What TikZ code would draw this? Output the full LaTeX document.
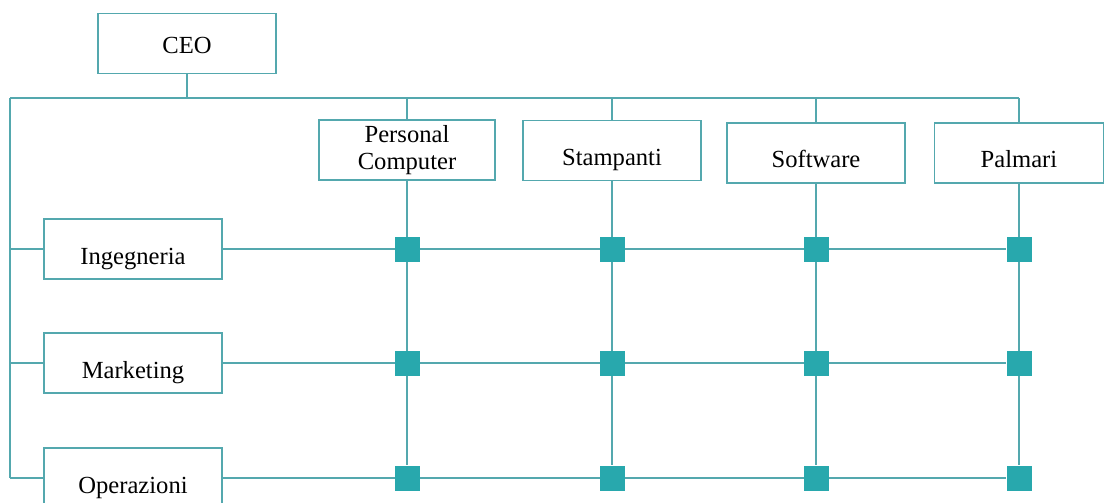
\documentclass[tikz,border=0pt]{standalone}
\usepackage{fontspec}
\setmainfont{Liberation Serif}
\usetikzlibrary{backgrounds}
\definecolor{orgline}{RGB}{84,168,174}
\definecolor{orgmark}{RGB}{40,168,173}
\tikzset{
  unit/.style={draw=orgline,line width=0.75pt,fill=white,minimum width=89pt,minimum height=30pt,inner sep=0pt,align=center,font=\fontsize{12.3}{13.5}\selectfont},
  lowered/.style={text height=#1,text depth=2.5pt},
  cell/.style={draw=none,fill=orgmark,minimum size=12.5pt,inner sep=0pt},
  link/.style={orgline,line width=0.75pt}
}
\begin{document}
\begin{tikzpicture}[x=0.5pt,y=-0.5pt]
\useasboundingbox (0,0) rectangle (1105,503);
\clip (0,0) rectangle (1105,503);
\node[unit,lowered=13pt] (ceo) at (187,43.5) {CEO};
\node[unit,minimum width=88pt] (pc) at (407,150) {Personal\\Computer};
\node[unit,lowered=17pt] (stamp) at (612,150.5) {Stampanti};
\node[unit,lowered=17pt] (soft) at (816,153) {Software};
\node[unit,lowered=17pt,minimum width=84.5pt] (palm) at (1019,153) {Palmari};
\node[unit,lowered=17.5pt] (ing) at (133,249) {Ingegneria};
\node[unit,lowered=17.5pt] (mkt) at (133,363) {Marketing};
\node[unit,lowered=17.5pt] (ops) at (133,478) {Operazioni};
\coordinate (bl) at (10,98);
\coordinate (br) at (1019,98);

% products x divisions
\node[cell] (m11) at (pc |- ing) {};
\node[cell] (m12) at (stamp |- ing) {};
\node[cell] (m13) at (soft |- ing) {};
\node[cell] (m14) at (palm |- ing) {};
\node[cell] (m21) at (pc |- mkt) {};
\node[cell] (m22) at (stamp |- mkt) {};
\node[cell] (m23) at (soft |- mkt) {};
\node[cell] (m24) at (palm |- mkt) {};
\node[cell] (m31) at (pc |- ops) {};
\node[cell] (m32) at (stamp |- ops) {};
\node[cell] (m33) at (soft |- ops) {};
\node[cell] (m34) at (palm |- ops) {};

\begin{scope}[on background layer]
\draw[link] (ceo.south) -- (ceo.south |- bl);
\draw[link] (bl) -- (br);
\draw[link] (pc.north) -- (pc.north |- bl);
\draw[link] (stamp.north) -- (stamp.north |- bl);
\draw[link] (soft.north) -- (soft.north |- bl);
\draw[link] (palm.north) -- (palm.north |- bl);
\draw[link] (bl) -- (bl |- ops.west);
\draw[link] (bl |- ing.west) -- (ing.west);
\draw[link] (bl |- mkt.west) -- (mkt.west);
\draw[link] (bl |- ops.west) -- (ops.west);
\draw[link] (ing.east) -- (m14);
\draw[link] (mkt.east) -- (m24);
\draw[link] (ops.east) -- (m34);
\draw[link] (pc.south) -- (m31);
\draw[link] (stamp.south) -- (m32);
\draw[link] (soft.south) -- (m33);
\draw[link] (palm.south) -- (m34);
\end{scope}

\end{tikzpicture}
\end{document}
